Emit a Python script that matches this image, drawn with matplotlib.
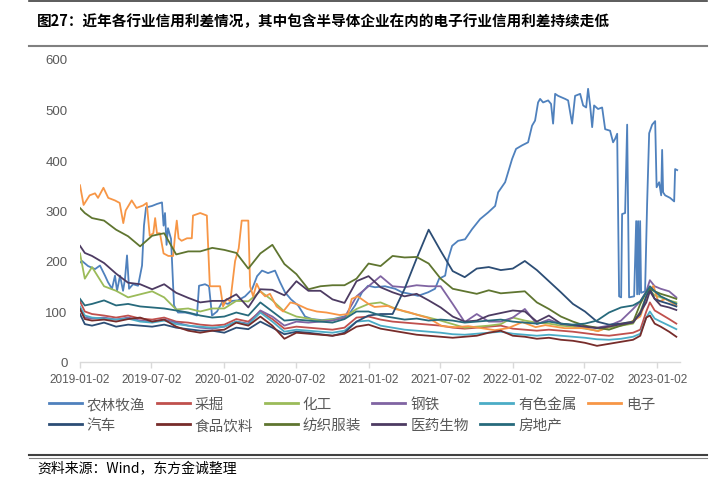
import numpy as np
import pandas as pd
import matplotlib
matplotlib.use("Agg")
import matplotlib.pyplot as plt
from matplotlib.lines import Line2D

# ---------------- data (time in months after 2019-01-02) ----------------
BASE = "2019-01-02"

grid_m = [0, 0.4] + list(range(1, 47)) + [46.6, 47.1, 47.4, 47.8, 48.3, 49, 49.6]

mining = [120, 100,
          95, 92, 88, 92, 86, 84, 88, 80, 78, 74,
          72, 74, 85, 80, 100, 85, 66, 70, 68, 66,
          64, 68, 88, 90, 84, 80, 78, 76, 74, 72,
          68, 66, 68, 70, 72, 66, 64, 62, 64, 62,
          60, 57, 54, 52, 55, 58,
          64, 100, 118, 102, 95, 85, 76]

chemical = [215, 165,
            188, 150, 141, 128, 134, 140, 128, 104, 106, 100,
            106, 106, 121, 120, 140, 122, 100, 90, 86, 82,
            84, 88, 105, 115, 118, 108, 100, 94, 88, 82,
            75, 68, 70, 72, 75, 88, 82, 78, 76, 72,
            70, 66, 62, 68, 72, 76,
            100, 130, 142, 132, 128, 122, 118]

steel = [105, 88,
         86, 88, 84, 88, 82, 80, 84, 78, 72, 68,
         66, 70, 80, 76, 102, 90, 72, 80, 78, 80,
         82, 88, 130, 150, 170, 150, 148, 152, 150, 150,
         115, 79, 95, 80, 80, 88, 105, 75, 84, 75,
         73, 70, 68, 72, 82, 105,
         120, 140, 162, 150, 145, 140, 128]

nonferrous = [110, 92,
              88, 86, 84, 86, 80, 78, 82, 75, 72, 70,
              68, 70, 80, 74, 98, 80, 60, 64, 62, 60,
              58, 62, 80, 82, 72, 68, 64, 62, 60, 58,
              55, 54, 56, 58, 60, 56, 54, 52, 54, 52,
              50, 48, 45, 44, 46, 50,
              56, 88, 100, 86, 80, 72, 65]

auto = [95, 75,
        72, 78, 70, 74, 72, 70, 74, 68, 65, 62,
        62, 58, 68, 65, 80, 68, 55, 60, 58, 55,
        52, 58, 80, 92, 95, 95, 145, 205, 262, 220,
        180, 168, 185, 188, 182, 185, 200, 182, 160, 138,
        115, 100, 80, 74, 76, 80,
        95, 130, 145, 125, 120, 115, 110]

food = [105, 85,
        82, 84, 80, 85, 88, 80, 84, 70, 62, 58,
        62, 64, 78, 72, 90, 72, 46, 58, 56, 54,
        52, 56, 70, 74, 66, 62, 58, 54, 52, 50,
        48, 50, 52, 58, 62, 52, 50, 46, 48, 44,
        42, 38, 32, 36, 40, 44,
        52, 88, 92, 76, 70, 60, 50]

textile = [305, 295,
           285, 280, 262, 249, 229, 250, 255, 213, 219, 219,
           226, 222, 216, 185, 215, 232, 194, 174, 144, 150,
           152, 152, 165, 195, 190, 210, 207, 208, 195, 165,
           145, 140, 135, 142, 136, 138, 140, 118, 105, 90,
           80, 72, 68, 64, 72, 79,
           115, 138, 145, 140, 135, 130, 125]

pharma = [230, 216,
          210, 196, 175, 157, 154, 144, 154, 137, 127, 118,
          121, 121, 134, 108, 144, 143, 132, 160, 141, 141,
          124, 117, 160, 170, 148, 138, 130, 135, 122, 108,
          90, 80, 82, 92, 97, 102, 100, 80, 92, 76,
          73, 70, 67, 70, 75, 78,
          98, 118, 140, 125, 112, 108, 103]

realestate = [125, 112,
              115, 122, 112, 115, 110, 108, 106, 102, 98, 92,
              88, 90, 98, 92, 118, 100, 82, 84, 82, 80,
              78, 85, 100, 100, 92, 88, 84, 86, 82, 84,
              82, 78, 80, 82, 84, 80, 78, 76, 80, 76,
              74, 76, 82, 98, 108, 112,
              120, 138, 150, 140, 130, 122, 115]

elec_m = [0, 0.3, 0.8, 1.25, 1.5, 1.95, 2.35, 2.9, 3.3, 3.6, 3.8, 4.3, 4.7, 5.25,
          5.55, 5.8, 6.1, 6.25, 6.4, 6.65, 6.95, 7.35, 7.75, 7.9, 8.05, 8.2, 8.45,
          8.9, 9.3, 9.4, 10.0, 10.55, 10.8, 11.2, 11.65, 11.9, 12.2, 12.5, 12.9,
          13.2, 13.45, 14.0, 14.15, 14.4, 14.7, 15.0, 15.4, 15.8, 16.35, 16.9,
          17.5, 18.0, 18.9, 19.7, 20.5, 21.6, 22.3, 22.6, 23.1, 24.0, 24.5, 25.6,
          26.2, 27.3, 28.1, 29.0, 30.1, 31.2, 32.3, 33.4, 34.5, 35.6, 36.8, 37.9,
          38.7, 40.3, 42.0, 43.1, 44.3, 45.8, 46.6, 47.3, 47.7, 48.1, 48.7, 49.6]
elec_v = [350, 311, 330, 334, 325, 345, 325, 320, 315, 275, 300, 320, 305, 310,
          315, 250, 255, 285, 255, 255, 215, 210, 210, 250, 280, 245, 240,
          245, 245, 290, 295, 290, 150, 150, 150, 110, 125, 120, 200,
          225, 280, 280, 150, 130, 155, 140, 130, 135, 110, 100,
          118, 115, 105, 100, 98, 93, 95, 125, 130, 115, 109, 111,
          105, 99, 93, 87, 71, 69, 71, 67, 63, 67, 79, 69,
          73, 67, 67, 61, 73, 79, 90, 138, 151, 119, 125, 112]

agri_m = [0, 0.17, 0.67, 1.25, 1.66, 2.08, 2.33, 2.66, 2.91, 3.08, 3.33, 3.58, 3.74,
          3.91, 4.08, 4.41, 4.83, 5.16, 5.32, 5.49, 5.99, 6.41, 6.82, 6.95, 7.07,
          7.2, 7.32, 7.57, 7.82, 8.15, 8.74, 9.32, 9.73, 9.9, 10.4, 10.73, 10.98,
          11.4, 11.81, 12.31, 12.65, 13.14, 13.73, 14.31, 14.73, 15.14, 15.64,
          16.22, 16.64, 17.05, 17.55, 18.14, 18.72, 19.3, 20.13, 21.05, 22.3,
          22.88, 23.46, 23.96, 24.54, 25.37, 26.21, 26.79, 27.45, 28.12, 28.95,
          29.53, 29.87, 30.37, 30.62, 30.95, 31.45, 32.03, 32.61, 33.28, 33.94,
          34.53, 34.78, 35.36, 35.94, 36.27, 36.77, 37.27, 37.6, 37.85, 38.1,
          38.27, 38.52, 38.94, 39.18, 39.35, 39.52, 39.77, 40.35, 40.6, 40.93,
          41.18, 41.6, 41.85, 42.1, 42.26, 42.43, 42.6, 42.76, 43.09, 43.43,
          43.68, 44.09, 44.34, 44.51, 44.68, 44.84, 45.01, 45.09, 45.34, 45.51,
          45.67, 46.09, 46.26, 46.34, 46.42, 46.51, 46.59, 46.67, 47.0, 47.17,
          47.34, 47.59, 47.84, 47.96, 48.17, 48.34, 48.42, 48.5, 48.67, 49.08,
          49.42, 49.5, 49.67]
agri_v = [197, 200, 190, 184, 191, 171, 158, 145, 171, 141, 171, 141, 164,
          211, 145, 154, 151, 191, 270, 306, 309, 313, 316, 270, 295,
          232, 265, 244, 112, 98, 98, 95, 92, 151, 154, 150, 92,
          100, 118, 115, 121, 122, 130, 144, 170, 181, 176,
          181, 158, 138, 124, 112, 90, 85, 83, 85, 92,
          112, 138, 151, 148, 150, 145, 138, 135, 131, 138,
          145, 165, 171, 204, 230, 240, 243, 263, 283, 296,
          309, 336, 356, 402, 422, 429, 435, 468, 478, 514,
          521, 514, 518, 511, 472, 531, 527, 521, 518, 472,
          527, 531, 508, 504, 541, 508, 465, 508, 501, 504,
          461, 458, 435, 442, 452, 130, 128, 293, 295, 470,
          128, 130, 279, 134, 279, 134, 279, 137, 140, 313,
          453, 470, 477, 346, 356, 330, 420, 336, 330, 325,
          318, 382, 380]

series_names = ["农林牧渔", "采掘", "化工", "钢铁", "有色金属", "电子",
                "汽车", "食品饮料", "纺织服装", "医药生物", "房地产"]
series_colors = ["#4F81BD", "#C0504D", "#9BBB59", "#8064A2", "#4BACC6", "#F79646",
                 "#2C4D75", "#772C2A", "#5F7530", "#4D3B62", "#276A7C"]

tick_labels = ["2019-01-02", "2019-07-02", "2020-01-02", "2020-07-02", "2021-01-02",
               "2021-07-02", "2022-01-02", "2022-07-02", "2023-01-02"]

title = "图27：近年各行业信用利差情况，其中包含半导体企业在内的电子行业信用利差持续走低"
source = "资料来源：Wind，东方金诚整理"

# ---------------- build ----------------
base = pd.Timestamp(BASE)


def to_dates(months):
    return base + pd.to_timedelta(np.asarray(months, dtype=float) * 30.4375, unit="D")


grid_dates = to_dates(grid_m)
series_xy = [
    (to_dates(agri_m), agri_v),
    (grid_dates, mining),
    (grid_dates, chemical),
    (grid_dates, steel),
    (grid_dates, nonferrous),
    (to_dates(elec_m), elec_v),
    (grid_dates, auto),
    (grid_dates, food),
    (grid_dates, textile),
    (grid_dates, pharma),
    (grid_dates, realestate),
]

CJK = ["Noto Sans CJK SC", "DejaVu Sans"]
plt.rcParams["font.family"] = ["Liberation Sans", "DejaVu Sans"]

W, H = 724, 485
fig = plt.figure(figsize=(W / 100, H / 100), dpi=100)
ax = fig.add_axes([80 / W, 1 - 363 / H, 600 / W, 303 / H])

for (xd, yv), name, col in zip(series_xy, series_names, series_colors):
    ax.plot(xd, yv, color=col, lw=1.3, solid_joinstyle="round", label=name)

ax.set_xlim(base, pd.Timestamp("2023-03-01"))
ax.set_ylim(0, 600)
ax.set_yticks(range(0, 601, 100))
ax.set_xticks(pd.to_datetime(tick_labels))
ax.set_xticklabels(tick_labels)

for s in ("top", "right", "left"):
    ax.spines[s].set_visible(False)
ax.spines["bottom"].set_color("#D9D9D9")
ax.spines["bottom"].set_linewidth(1.0)
ax.tick_params(axis="x", length=4, width=1, color="#D9D9D9", pad=4,
               labelsize=8.5, labelcolor="#595959")
ax.tick_params(axis="y", length=0, pad=9, labelsize=9.5, labelcolor="#595959")

# legend (row-wise order like the original)
order = [0, 6, 1, 7, 2, 8, 3, 9, 4, 10, 5]
handles = [Line2D([], [], color=series_colors[i], lw=2.0) for i in order]
labels = [series_names[i] for i in order]
fig.legend(handles, labels, ncol=6, loc="upper left",
           bbox_to_anchor=(49 / W, 1 - 398 / H), frameon=False,
           prop={"family": CJK, "size": 10.5}, labelcolor="#595959",
           handlelength=2.26, handletextpad=0.34, columnspacing=0.78,
           borderpad=0, borderaxespad=0, labelspacing=0.5)

# title, rules, source
fig.text(37 / W, 1 - 21 / H, title, fontsize=10.5, fontweight="bold",
         family=CJK, ha="left", va="center", color="#000000")
fig.add_artist(Line2D([29 / W, 707 / W], [1 - 2 / H, 1 - 2 / H],
                      transform=fig.transFigure, color="#404040", lw=1.2))
fig.add_artist(Line2D([29 / W, 707 / W], [1 - 47 / H, 1 - 47 / H],
                      transform=fig.transFigure, color="#808080", lw=1.5))
fig.add_artist(Line2D([29 / W, 707 / W], [1 - 456 / H, 1 - 456 / H],
                      transform=fig.transFigure, color="#404040", lw=1.5))
fig.add_artist(Line2D([29 / W, 707 / W], [1 - 459 / H, 1 - 459 / H],
                      transform=fig.transFigure, color="#808080", lw=0.8))
fig.text(37 / W, 1 - 469 / H, source, fontsize=10, family=CJK,
         ha="left", va="center", color="#000000")

fig.savefig("out.png", dpi=100)
